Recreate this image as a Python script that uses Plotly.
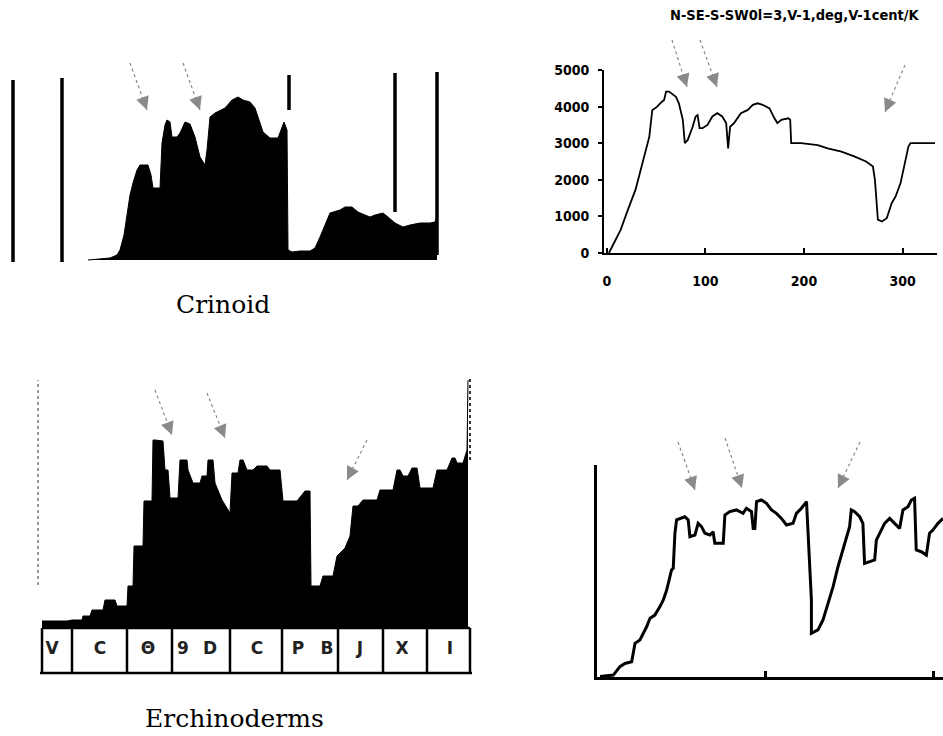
import plotly.graph_objects as go

W, H = 943, 736

# ---------------- data ----------------
# Crinoid densitometer profile (position along strip, relative intensity)
crinoid_pos = [88, 100, 110, 117, 120, 124, 127, 130, 133, 137, 140, 148, 151, 153, 160, 162, 165, 167,
               170, 172, 177, 180, 185, 190, 195, 200, 205, 207, 210, 215, 225, 232, 238, 243, 250, 255,
               258, 263, 270, 278, 281, 284, 287, 288, 292, 300, 310, 315, 320, 325, 330, 340, 345, 352,
               358, 365, 370, 375, 383, 388, 395, 403, 410, 420, 430, 435, 437]
crinoid_int = [0, 1, 2, 5, 10, 25, 47, 65, 77, 90, 95, 95, 85, 72, 72, 117, 135, 140,
               138, 123, 123, 127, 138, 136, 123, 103, 95, 110, 143, 147, 152, 160, 163, 160, 158, 152,
               143, 128, 122, 122, 130, 138, 130, 10, 8, 9, 9, 12, 23, 35, 47, 50, 53, 53,
               48, 45, 43, 45, 47, 43, 37, 33, 35, 37, 37, 38, 44]
crinoid_marker_pos = [13, 62, 289, 395, 437]
crinoid_marker_top = [180, 182, 185, 187, 188]
crinoid_marker_bot = [-2, -2, 150, 48, 5]

# N-SE-S-SW profile (distance, value)
profile_x = [2, 14, 20, 29, 36, 43, 46, 51, 54, 58, 60, 63, 70, 73, 77, 79, 82, 87, 90, 92, 94, 97,
             102, 107, 112, 117, 121, 123, 125, 129, 136, 143, 148, 153, 158, 165, 170, 173, 177, 184,
             186, 187, 197, 214, 224, 238, 251, 263, 270, 272, 274, 275, 279, 284, 289, 293, 298, 303,
             306, 308, 333]
profile_y = [0, 640, 1090, 1730, 2450, 3180, 3900, 4000, 4090, 4180, 4410, 4410, 4270, 4090, 3640,
             3000, 3090, 3450, 3730, 3770, 3410, 3410, 3500, 3730, 3820, 3730, 3550, 2860, 3450, 3550,
             3820, 3910, 4050, 4090, 4050, 3950, 3680, 3550, 3640, 3680, 3640, 3000, 3000, 2950, 2860,
             2770, 2640, 2500, 2360, 2000, 1270, 910, 860, 950, 1360, 1545, 1910, 2545, 2910, 3000, 3000]
profile_xticks = [0, 100, 200, 300]
profile_yticks = [0, 1000, 2000, 3000, 4000, 5000]
profile_title = "N-SE-S-SW0l=3,V-1,deg,V-1cent/K"

# Echinoderm densitometer profile
echino_pos = [42, 67, 72, 82, 83, 90, 92, 103, 105, 115, 117, 127, 128, 133, 134, 143, 144, 152, 153,
              155, 163, 165, 168, 170, 178, 180, 187, 188, 193, 200, 202, 207, 208, 213, 215, 222, 230,
              232, 238, 240, 243, 247, 253, 257, 267, 270, 280, 283, 293, 297, 305, 310, 311, 320, 323,
              333, 337, 345, 350, 353, 358, 363, 377, 380, 393, 397, 400, 403, 408, 412, 417, 420, 433,
              437, 447, 452, 455, 457, 463, 467, 468]
echino_int = [7, 7, 8, 8, 12, 12, 18, 18, 28, 28, 22, 22, 42, 42, 82, 82, 127, 127, 188,
              188, 187, 158, 158, 130, 130, 168, 168, 158, 145, 145, 152, 152, 168, 168, 145, 128, 115,
              155, 155, 168, 168, 158, 158, 162, 162, 158, 158, 127, 127, 127, 137, 137, 42, 42, 52,
              52, 72, 80, 92, 122, 122, 128, 128, 138, 138, 158, 158, 152, 152, 160, 160, 140, 140,
              158, 158, 170, 170, 165, 165, 178, 248]
box_edges = [42, 72, 127, 172, 230, 282, 338, 383, 427, 470]
box_label_pos = [52, 100, 148, 183, 210, 257, 298, 327, 360, 402, 450]
box_labels = ["V", "C", "Θ", "9", "D", "C", "P", "B", "J", "X", "I"]

# Second echinoderm profile (line)
echino2_x = [1.8, 9.7, 13.6, 16.6, 20.6, 21.6, 22.6, 25.5, 27.5, 29.5, 31.5, 34.4, 37.4, 39.4, 41.4,
             42.9, 44.3, 45.3, 46.3, 47.3, 49.3, 52.2, 54.2, 55.2, 58.2, 60.1, 62.1, 64.1, 67.1, 69.0,
             70.0, 75.0, 76.0, 78.9, 82.9, 86.8, 88.8, 91.8, 92.8, 93.8, 94.8, 97.7, 100.7, 103.7,
             106.6, 109.6, 112.6, 116.5, 118.5, 121.5, 124.5, 125.4, 126.4, 127.4, 127.4, 131.3, 134.3,
             137.3, 140.3, 143.2, 146.2, 148.2, 150.1, 151.1, 153.1, 156.1, 158.0, 159.0, 162.0, 165.0,
             166.0, 169.0, 170.9, 173.9, 176.9, 179.8, 181.8, 184.8, 186.8, 188.7, 189.7, 192.7, 195.7,
             197.6, 199.6, 202.6, 205.6]
echino2_y = [0.2, 0.9, 4.9, 6.4, 7.2, 11.2, 15.9, 17.5, 20.6, 23.7, 27.7, 29.2, 33.2, 36.3, 41.0,
             45.8, 50.5, 51.3, 67.8, 74.1, 74.8, 75.6, 74.1, 66.2, 67.0, 72.5, 70.9, 67.8, 67.0, 68.5,
             63.1, 63.1, 76.4, 78.0, 78.8, 77.2, 79.6, 78.0, 70.1, 70.1, 82.7, 83.5, 81.9, 78.8,
             77.2, 74.8, 71.7, 72.5, 77.2, 79.6, 82.7, 69.3, 56.7, 36.3, 20.6, 22.2, 26.9,
             34.8, 42.6, 52.0, 59.9, 66.2, 70.9, 78.8, 78.0, 75.6, 72.5, 53.6, 54.4, 55.2,
             64.6, 69.3, 72.5, 74.8, 72.5, 70.1, 78.8, 80.3, 83.5, 84.3, 59.9, 59.1, 57.5,
             67.8, 69.3, 72.5, 74.8]
echino2_xticks = [100, 200]

# arrow decorations (tail x, tail y, tip x, tip y) in page pixels
arrows = [(130, 63, 147, 110), (183, 63, 200, 110),
          (672, 40, 687, 87), (700, 40, 717, 87), (905, 65, 885, 112),
          (155, 390, 172, 435), (207, 393, 225, 438), (367, 440, 347, 480),
          (678, 442, 695, 490), (725, 438, 742, 488), (860, 442, 838, 488)]


def pxx(x):
    return x / W


def pyy(y):
    return 1 - y / H


fig = go.Figure()

# Panel A: crinoid
fig.add_trace(go.Scatter(x=crinoid_pos, y=crinoid_int, mode="lines", fill="tozeroy",
                         line=dict(color="black", width=1), fillcolor="black",
                         xaxis="x", yaxis="y", showlegend=False))
mx, my = [], []
for p, t, b in zip(crinoid_marker_pos, crinoid_marker_top, crinoid_marker_bot):
    mx += [p, p, None]
    my += [b, t, None]
fig.add_trace(go.Scatter(x=mx, y=my, mode="lines", line=dict(color="black", width=3.5),
                         xaxis="x", yaxis="y", showlegend=False))

# Panel B: line profile
fig.add_trace(go.Scatter(x=profile_x, y=profile_y, mode="lines",
                         line=dict(color="black", width=1.8),
                         xaxis="x2", yaxis="y2", showlegend=False))

# Panel C: echinoderm area
fig.add_trace(go.Scatter(x=echino_pos, y=echino_int, mode="lines", fill="tozeroy",
                         line=dict(color="black", width=1), fillcolor="black",
                         xaxis="x3", yaxis="y3", showlegend=False))
bx, byv = [], []
for e in box_edges:
    bx += [e, e, None]
    byv += [0, -44, None]
bx += [box_edges[0], box_edges[-1], None, box_edges[0] - 2, box_edges[-1] + 2]
byv += [0, 0, None, -45, -45]
fig.add_trace(go.Scatter(x=bx, y=byv, mode="lines", line=dict(color="black", width=2.5),
                         xaxis="x3", yaxis="y3", showlegend=False))
fig.add_trace(go.Scatter(x=box_label_pos, y=[-22] * len(box_labels), mode="text",
                         text=box_labels,
                         textfont=dict(family="DejaVu Sans", size=17, color="#222", weight="bold"),
                         xaxis="x3", yaxis="y3", showlegend=False))
fig.add_trace(go.Scatter(x=[38, 38], y=[43, 248], mode="lines",
                         line=dict(color="#777", width=1.5, dash="dot"),
                         xaxis="x3", yaxis="y3", showlegend=False))
fig.add_trace(go.Scatter(x=[470, 470], y=[168, 250], mode="lines",
                         line=dict(color="#333", width=2, dash="dot"),
                         xaxis="x3", yaxis="y3", showlegend=False))

# Panel D: line profile
fig.add_trace(go.Scatter(x=echino2_x, y=echino2_y, mode="lines",
                         line=dict(color="black", width=3),
                         xaxis="x4", yaxis="y4", showlegend=False))

tickfont = dict(family="DejaVu Sans Condensed, DejaVu Sans", size=14, color="black", weight="bold")
hidden = dict(visible=False, fixedrange=True)

fig.update_layout(
    width=W, height=H, margin=dict(l=0, r=0, t=0, b=0, autoexpand=False),
    paper_bgcolor="white", plot_bgcolor="rgba(0,0,0,0)",
    xaxis=dict(domain=[0, pxx(450)], range=[0, 450], **hidden),
    yaxis=dict(domain=[pyy(265), pyy(60)], range=[-5, 200], **hidden),
    xaxis2=dict(domain=[pxx(604), pxx(937)], range=[-3, 335], anchor="y2",
                showline=True, linecolor="black", linewidth=2, showgrid=False, zeroline=False,
                tickvals=profile_xticks, ticks="inside", ticklen=5, tickwidth=2, tickcolor="black",
                tickfont=tickfont, ticklabelstandoff=14, automargin=False),
    yaxis2=dict(domain=[pyy(253), pyy(70)], range=[0, 5000], anchor="x2",
                showline=True, linecolor="black", linewidth=2, showgrid=False, zeroline=False,
                tickvals=profile_yticks, ticks="outside", ticklen=4, tickwidth=2, tickcolor="black",
                tickfont=tickfont, ticklabelstandoff=6, automargin=False),
    xaxis3=dict(domain=[0, pxx(480)], range=[0, 480], anchor="y3", **hidden),
    yaxis3=dict(domain=[pyy(675), pyy(370)], range=[-47, 258], anchor="x3", **hidden),
    xaxis4=dict(domain=[pxx(597), 1], range=[0, 205.6], anchor="y4",
                showline=True, linecolor="black", linewidth=3, showgrid=False, zeroline=False,
                tickvals=echino2_xticks, ticks="inside", ticklen=6, tickwidth=2.5, tickcolor="black",
                showticklabels=False, automargin=False),
    yaxis4=dict(domain=[pyy(677), pyy(465)], range=[0, 100], anchor="x4",
                showline=True, linecolor="black", linewidth=3, showgrid=False, zeroline=False,
                showticklabels=False, ticks="", automargin=False),
)

annotations = [
    dict(x=pxx(795), y=pyy(15), xref="paper", yref="paper", text=profile_title, showarrow=False,
         xanchor="center", yanchor="middle",
         font=dict(family="DejaVu Sans Condensed, DejaVu Sans", size=14.5, color="black", weight="bold")),
    dict(x=pxx(223), y=pyy(304), xref="paper", yref="paper", text="Crinoid", showarrow=False,
         xanchor="center", yanchor="middle",
         font=dict(family="DejaVu Serif", size=25, color="black")),
    dict(x=pxx(234), y=pyy(718), xref="paper", yref="paper", text="Erchinoderms", showarrow=False,
         xanchor="center", yanchor="middle",
         font=dict(family="DejaVu Serif", size=25, color="black")),
]
shapes = []
for (x0, y0, x1, y1) in arrows:
    shapes.append(dict(type="line", xref="paper", yref="paper",
                       x0=pxx(x0), y0=pyy(y0), x1=pxx(x1), y1=pyy(y1),
                       line=dict(color="#888", width=1.2, dash="dot")))
    dx, dy = x1 - x0, y1 - y0
    L = (dx * dx + dy * dy) ** 0.5
    annotations.append(dict(x=pxx(x1), y=pyy(y1), xref="paper", yref="paper", text="",
                            showarrow=True, arrowhead=2, arrowsize=2.2, arrowwidth=1.2,
                            arrowcolor="#8a8a8a", ax=-dx / L * 6, ay=-dy / L * 6, standoff=0))
fig.update_layout(annotations=annotations, shapes=shapes)

fig.write_html(
    "out.html",
    config={"responsive": False, "displayModeBar": False},
    post_script="document.body.style.margin='0px';document.documentElement.style.overflow='hidden';",
)
